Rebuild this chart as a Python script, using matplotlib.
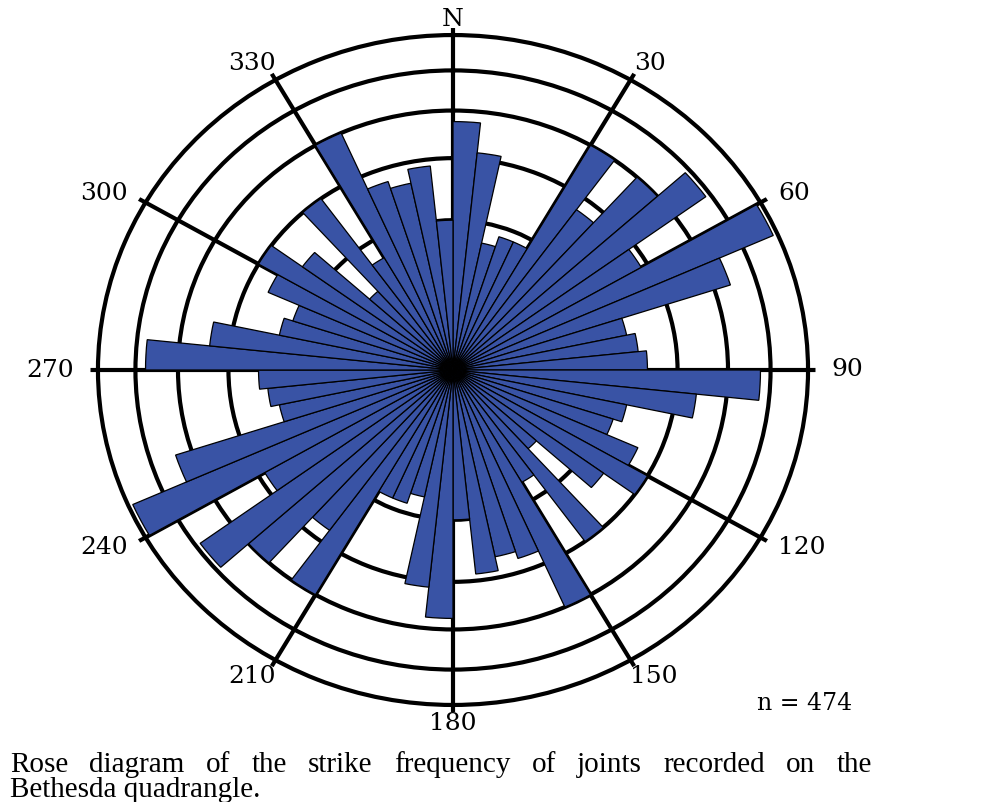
import numpy as np
import matplotlib
matplotlib.use("Agg")
import matplotlib.pyplot as plt

# ===============================
# DATA  (6 degree strike bins 0-180, mirrored onto 180-360)
# ===============================
BIN_WIDTH = 6
BIN_START = list(range(0, 180, BIN_WIDTH))
COUNTS = [22, 17, 6, 7, 7, 24, 14, 24, 31, 15,
          39, 27, 10, 11, 12, 30, 19, 10, 9, 13,
          16, 11, 4, 16, 6, 24, 14, 13, 15, 8]
RINGS = [8, 16, 24, 32, 40]
DIR_ANGLES = list(range(0, 360, 30))
DIR_LABELS = ["N", "30", "60", "90", "120", "150",
              "180", "210", "240", "270", "300", "330"]
N_TOTAL = 474
CAPTION_1 = "Rose diagram of the strike frequency of joints recorded on the"
CAPTION_2 = "Bethesda quadrangle."

# ===============================
# STYLE
# ===============================
BAR_COLOR = "#3953a5"
W, H = 994, 802
CX, CY = 453, 370          # centre of rose, pixels from top-left
RX, RY = 362.5, 342        # axes half size (slightly elliptical, as in source)
R_MAX = 41.7

fig = plt.figure(figsize=(W / 100, H / 100), dpi=100)
ax = fig.add_axes([(CX - RX) / W, (H - CY - RY) / H, 2 * RX / W, 2 * RY / H],
                  projection="polar")
ax.set_aspect("auto")
ax.set_theta_zero_location("N")
ax.set_theta_direction(-1)
# equal-area rose: radius ~ sqrt(count)
ax.set_rscale("function", functions=(lambda r: np.sqrt(np.clip(r, 0, None)),
                                     lambda r: np.square(r)))

theta = np.deg2rad(BIN_START + [b + 180 for b in BIN_START])
heights = COUNTS + COUNTS
ax.bar(theta, heights, width=np.deg2rad(BIN_WIDTH), align="edge", bottom=0,
       color=BAR_COLOR, edgecolor="black", linewidth=0.9, zorder=3)

ax.set_ylim(0, R_MAX)
ax.set_rticks(RINGS)
ax.set_yticklabels([])
ax.set_thetagrids(DIR_ANGLES, labels=[""] * len(DIR_ANGLES))
ax.grid(True, color="black", linewidth=3.0)
ax.set_axisbelow(True)
ax.spines["polar"].set_visible(False)
ax.tick_params(length=0)
ax.patch.set_alpha(0)

# direction labels just outside the spoke ends
for a, lab in zip(DIR_ANGLES, DIR_LABELS):
    s, c = np.sin(np.deg2rad(a)), np.cos(np.deg2rad(a))
    w = 16 * len(lab)
    dx = s * (w / 2 + 16)
    dy = c * 12
    if lab == "N":
        dy -= 3
    ax.annotate(lab, xy=(np.deg2rad(a), R_MAX), xytext=(dx, dy),
                textcoords="offset pixels", ha="center", va="center",
                fontsize=18, family="DejaVu Serif", annotation_clip=False)

fig.text(805 / W, 1 - 703 / H, f"n = {N_TOTAL}", ha="center", va="center",
         fontsize=17, family="DejaVu Serif")

# ===============================
# CAPTION (first line justified)
# ===============================
cap_kw = dict(fontsize=21, family="Liberation Serif", va="baseline", ha="left")
words = CAPTION_1.split()
texts = [fig.text(0, 1 - 772 / H, wd, **cap_kw) for wd in words]
renderer = fig.canvas.get_renderer()
widths = [t.get_window_extent(renderer).width for t in texts]
x0, x1 = 10, 872
gap = (x1 - x0 - sum(widths)) / (len(words) - 1)
x = x0
for t, wd in zip(texts, widths):
    t.set_x(x / W)
    x += wd + gap
fig.text(x0 / W, 1 - 797 / H, CAPTION_2, **cap_kw)

fig.savefig("out.png", dpi=100)
